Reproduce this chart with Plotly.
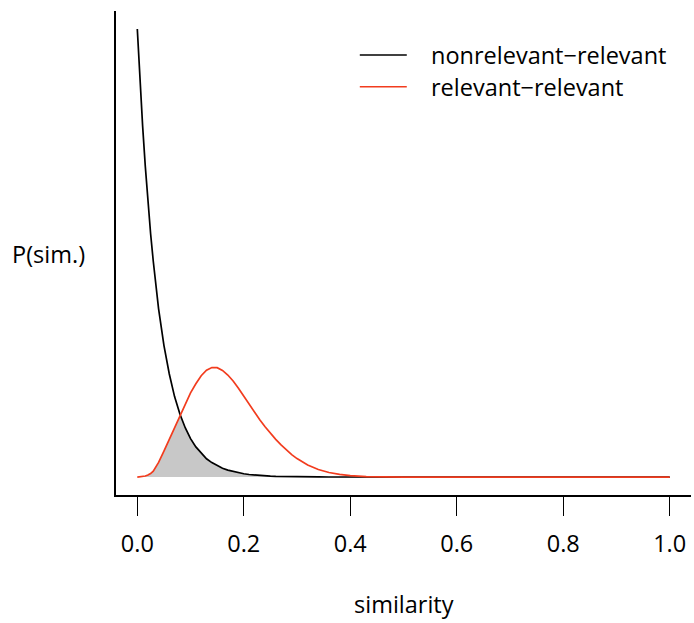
import plotly.graph_objects as go

# Similarity grid shared by both densities
similarity = [0.0, 0.005, 0.01, 0.015, 0.02, 0.025, 0.03, 0.035, 0.04, 0.05, 0.06, 0.07,
              0.08, 0.09, 0.10, 0.11, 0.12, 0.13, 0.14, 0.15, 0.16, 0.17, 0.18,
              0.19, 0.20, 0.21, 0.22, 0.23, 0.24, 0.25, 0.26, 0.27, 0.28, 0.29,
              0.30, 0.32, 0.34, 0.36, 0.38, 0.40, 0.43, 0.46, 0.50, 0.60, 0.70,
              0.80, 0.90, 1.00]

# P(sim.) for nonrelevant-relevant pairs
p_nonrel_rel = [24.5, 21.7, 19.2, 17.0, 15.0, 13.3, 11.8, 10.4, 9.2, 7.2, 5.65, 4.4,
                3.45, 2.7, 2.1, 1.65, 1.3, 1.0, 0.79, 0.62, 0.48, 0.38, 0.30,
                0.23, 0.18, 0.14, 0.11, 0.087, 0.068, 0.053, 0.042, 0.033, 0.026, 0.020,
                0.016, 0.010, 0.006, 0.004, 0.002, 0.001, 0.0005, 0.0002, 0.0, 0.0, 0.0,
                0.0, 0.0, 0.0]

# P(sim.) for relevant-relevant pairs
p_rel_rel = [0.0, 0.008, 0.03, 0.06, 0.11, 0.19, 0.32, 0.53, 0.80, 1.42, 2.07, 2.72,
             3.36, 4.00, 4.60, 5.10, 5.54, 5.84, 5.99, 5.98, 5.83, 5.58, 5.25,
             4.85, 4.41, 3.97, 3.54, 3.13, 2.75, 2.39, 2.06, 1.76, 1.48, 1.23,
             1.01, 0.66, 0.41, 0.25, 0.145, 0.08, 0.03, 0.01, 0.002, 0.0, 0.0,
             0.0, 0.0, 0.0]

x_ticks = [0.0, 0.2, 0.4, 0.6, 0.8, 1.0]
x_tick_labels = ["0.0", "0.2", "0.4", "0.6", "0.8", "1.0"]

series_names = ["nonrelevant−relevant", "relevant−relevant"]
series_colors = ["#000000", "#F23C1E"]

overlap = [min(a, b) for a, b in zip(p_nonrel_rel, p_rel_rel)]

FONT = "Open Sans"
FS = 23.5

fig = go.Figure()

# Overlap area under both densities
fig.add_trace(go.Scatter(x=similarity, y=overlap, mode="lines",
                         line=dict(width=0),
                         fill="tozeroy", fillcolor="#C8C8C8",
                         hoverinfo="skip", showlegend=False))

fig.add_trace(go.Scatter(x=similarity, y=p_nonrel_rel, mode="lines",
                         name=series_names[0],
                         line=dict(color=series_colors[0], width=1.7),
                         showlegend=False))
fig.add_trace(go.Scatter(x=similarity, y=p_rel_rel, mode="lines",
                         name=series_names[1],
                         line=dict(color=series_colors[1], width=1.7),
                         showlegend=False))

ymax = max(p_nonrel_rel)

fig.update_layout(
    width=694, height=623,
    margin=dict(l=116, r=3, t=11, b=128),
    paper_bgcolor="white", plot_bgcolor="white",
    font=dict(family=FONT, size=FS, color="#000000"),
    xaxis=dict(range=[-0.04, 1.04], showgrid=False, zeroline=False,
               showline=True, linecolor="#000000", linewidth=1.5,
               tickvals=x_ticks, ticktext=x_tick_labels,
               ticks="outside", ticklen=19, tickwidth=1.3, tickcolor="#000000",
               ticklabelstandoff=8,
               tickfont=dict(family=FONT, size=FS, color="#000000")),
    yaxis=dict(range=[-0.04 * ymax, 1.04 * ymax], showgrid=False, zeroline=False,
               showline=True, linecolor="#000000", linewidth=1.5,
               showticklabels=False, ticks=""),
)

# Axis titles
fig.add_annotation(text="similarity", xref="paper", yref="paper",
                   x=0.5007, y=-0.2252, xanchor="center", yanchor="middle",
                   showarrow=False, font=dict(family=FONT, size=FS))
fig.add_annotation(text="P(sim.)", xref="paper", yref="paper",
                   x=-0.1173, y=0.498, xanchor="center", yanchor="middle",
                   showarrow=False, font=dict(family=FONT, size=FS))

# Legend keys and labels
legend_y = [0.9091, 0.8436]
for name, color, ly in zip(series_names, series_colors, legend_y):
    fig.add_shape(type="line", xref="paper", yref="paper",
                  x0=0.424, x1=0.5057, y0=ly, y1=ly,
                  line=dict(color=color, width=1.6))
    fig.add_annotation(text=name, xref="paper", yref="paper",
                       x=0.544, y=ly, xanchor="left", yanchor="middle",
                       showarrow=False, font=dict(family=FONT, size=FS))

fig.write_html("out.html")
